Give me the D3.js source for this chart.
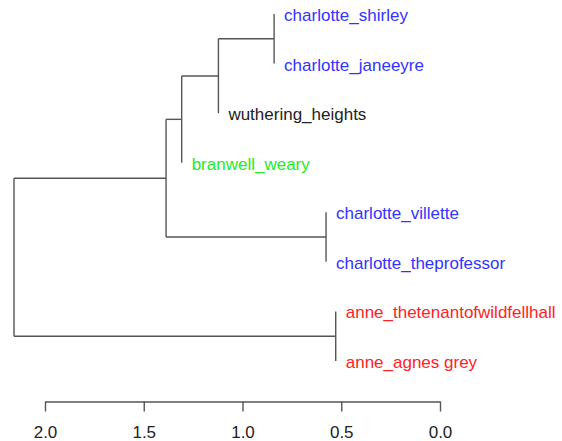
<!DOCTYPE html>
<html>
<head>
<meta charset="utf-8">
<script src="https://cdn.jsdelivr.net/npm/d3@7"></script>
<style>
  html, body { margin: 0; padding: 0; background: #fff; }
  svg { display: block; }
  text { font-family: "Liberation Sans", Arial, Helvetica, sans-serif; }
</style>
</head>
<body>
<svg id="chart" width="562" height="441"></svg>
<script>
// ---- data (leaf order top to bottom) ----
const leafLabels = [
  "charlotte_shirley", "charlotte_janeeyre", "wuthering_heights", "branwell_weary",
  "charlotte_villette", "charlotte_theprofessor", "anne_thetenantofwildfellhall", "anne_agnes grey"
];
const leafGroups = ["charlotte", "charlotte", "emily", "branwell", "charlotte", "charlotte", "anne", "anne"];
// R-style merge list: negative = leaf index (1-based), positive = earlier merge step
const mergeLeft  = [-1, 1, 2, -5, 3, -7, 5];
const mergeRight = [-2, -3, -4, -6, 4, -8, 6];
const mergeHeight = [0.840, 1.122, 1.308, 0.577, 1.387, 0.528, 2.157];
const tickValues = [2.0, 1.5, 1.0, 0.5, 0.0];

const groupColor = { charlotte: "#3333ff", emily: "#222222", branwell: "#22ee22", anne: "#ff2222" };

// ---- build hierarchy ----
const steps = [];
function ref(v) {
  return v < 0 ? { name: leafLabels[-v - 1], group: leafGroups[-v - 1], idx: -v - 1 } : steps[v - 1];
}
mergeHeight.forEach((h, i) => {
  steps.push({ height: h, children: [ref(mergeLeft[i]), ref(mergeRight[i])] });
});
const root = d3.hierarchy(steps[steps.length - 1]);

// ---- scales ----
const svg = d3.select("#chart");
const x = d3.scaleLinear().domain([2, 0]).range([45, 440]);
const y = d3.scalePoint().domain(leafLabels).range([14, 361]);

// compute positions
root.eachAfter(n => {
  if (!n.children) {
    n.py = y(n.data.name);
  } else {
    n.px = x(n.data.height);
    n.py = (n.children[0].py + n.children[1].py) / 2;
  }
});
root.leaves().forEach(l => { l.px = l.parent.px; });

const g = svg.append("g");
const lineColor = "#555";
root.each(n => {
  if (n.children) {
    const ys = n.children.map(c => c.py);
    g.append("line")
      .attr("x1", n.px).attr("x2", n.px)
      .attr("y1", d3.min(ys)).attr("y2", d3.max(ys))
      .attr("stroke", lineColor).attr("stroke-width", 1.4);
    n.children.forEach(c => {
      if (c.children) {
        g.append("line")
          .attr("x1", n.px).attr("x2", c.px)
          .attr("y1", c.py).attr("y2", c.py)
          .attr("stroke", lineColor).attr("stroke-width", 1.4);
      }
    });
  }
});

// leaf labels
g.selectAll("text.leaf")
  .data(root.leaves())
  .join("text")
  .attr("class", "leaf")
  .attr("x", d => d.px + 10)
  .attr("y", d => d.py + 7)
  .attr("font-size", 17)
  .attr("fill", d => groupColor[d.data.group])
  .text(d => d.data.name);

// axis
const axis = d3.axisBottom(x)
  .tickValues(tickValues)
  .tickFormat(d3.format(".1f"))
  .tickSize(10)
  .tickSizeOuter(0)
  .tickPadding(14);
const ax = svg.append("g")
  .attr("transform", "translate(0,401.5)")
  .call(axis);
ax.select(".domain").attr("stroke", lineColor).attr("stroke-width", 1.4);
ax.selectAll(".tick line").attr("stroke", lineColor).attr("stroke-width", 1.4);
ax.selectAll(".tick text")
  .attr("font-size", 17)
  .attr("font-family", "'Liberation Sans', Arial, sans-serif")
  .attr("fill", "#222");
</script>
</body>
</html>
